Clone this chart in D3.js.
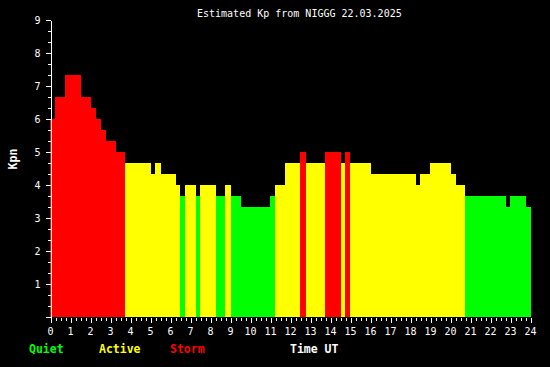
<!DOCTYPE html>
<html><head><meta charset="utf-8">
<script src="https://cdn.jsdelivr.net/npm/d3@7"></script>
<style>
html,body{margin:0;padding:0;background:#000;}
svg{display:block;}
text{font-family:"DejaVu Sans Mono",monospace;}
</style></head>
<body>
<svg id="chart" width="550" height="367"></svg>
<script>
// Segment start times (UT hours) and estimated Kp values
const startHours = [0,0.25,0.75,1.55,2.05,2.3,2.55,2.8,3.3,3.75,
  5.05,5.25,5.55,6.3,6.5,6.75,7.3,7.5,8.3,8.75,
  9.05,9.55,11.0,11.25,11.75,12.5,12.8,13.75,14.55,14.75,
  15.0,16.05,18.3,18.5,19.0,20.05,20.3,20.75,22.8,23.0,
  23.8];
const endHour = 24.05;
const kpValues = [6.00,6.67,7.33,6.67,6.33,6.00,5.67,5.33,5.00,4.67,
  4.33,4.67,4.33,4.00,3.67,4.00,3.67,4.00,3.67,4.00,
  3.67,3.33,3.67,4.00,4.67,5.00,4.67,5.00,4.67,5.00,
  4.67,4.33,4.00,4.33,4.67,4.33,4.00,3.67,3.33,3.67,
  3.33];
const xTicks = d3.range(0, 25);
const yTicks = d3.range(1, 10);
const legendLabels = ["Quiet", "Active", "Storm"];
const legendColors = ["#00ff00", "#ffff00", "#ff0000"];
const thresholds = [4, 5];
const titleText = "Estimated Kp from NIGGG 22.03.2025";

const svg = d3.select("#chart");
svg.append("rect").attr("width",550).attr("height",367).attr("fill","#000");

const x = d3.scaleLinear().domain([0,24]).range([50,530]);
const y = d3.scaleLinear().domain([0,9]).range([317,20]);
const color = d3.scaleThreshold().domain(thresholds).range(legendColors);

const segs = startHours.map((s,i)=>({s, e: i+1<startHours.length ? startHours[i+1] : endHour, v: kpValues[i]}));

svg.append("g").selectAll("rect").data(segs).join("rect")
  .attr("x", d=>x(d.s))
  .attr("width", d=>x(d.e)-x(d.s))
  .attr("y", d=>y(d.v))
  .attr("height", d=>y(0)-y(d.v))
  .attr("fill", d=>color(d.v))
  .attr("shape-rendering","crispEdges");

// Y axis
const yMinor = d3.range(0, 27).map(i=>i/3).filter(v=>Math.abs(v-Math.round(v))>1e-6);
const yAxisMinor = svg.append("g").attr("transform","translate(50.5,0)")
  .call(d3.axisLeft(y).tickValues(yMinor).tickSize(3).tickSizeOuter(0).tickFormat(""));
const yAxis = svg.append("g").attr("transform","translate(50.5,0)")
  .call(d3.axisLeft(y).tickValues(d3.range(0,10)).tickSize(5).tickSizeOuter(0)
    .tickFormat(d=> yTicks.includes(d) ? d : ""));
[yAxisMinor,yAxis].forEach(g=>{
  g.selectAll("path,line").attr("stroke","#fff").attr("shape-rendering","crispEdges");
  g.selectAll("text").attr("fill","#fff").attr("font-size",10).attr("x",-10)
   .attr("font-family","DejaVu Sans Mono");
});
yAxisMinor.select(".domain").remove();

// X axis
const xMinor = d3.range(0, 97).map(i=>i/4).filter(v=>v%1!==0);
const xAxisMinor = svg.append("g").attr("transform","translate(0,318)")
  .call(d3.axisBottom(x).tickValues(xMinor).tickSize(3).tickSizeOuter(0).tickFormat(""));
const xAxis = svg.append("g").attr("transform","translate(0,318)")
  .call(d3.axisBottom(x).tickValues(xTicks).tickSize(5).tickSizeOuter(0).tickFormat(d=>d));
[xAxisMinor,xAxis].forEach(g=>{
  g.select(".domain").remove();
  g.selectAll("line").attr("stroke","#fff").attr("shape-rendering","crispEdges")
    .attr("transform","translate(0.5,0)");
  g.selectAll("text").attr("fill","#fff").attr("font-size",10).attr("y",10)
   .attr("font-family","DejaVu Sans Mono");
});

// Title
svg.append("text").attr("x",197).attr("y",16.5).attr("fill","#fff")
  .attr("font-size",10).text(titleText);

// Y label
svg.append("text").attr("transform","translate(17,159) rotate(-90)")
  .attr("text-anchor","middle").attr("fill","#fff").attr("font-size",11.5)
  .attr("font-weight","bold").text("Kpn");

// Legend
const legendX = [29, 99, 170];
svg.append("g").selectAll("text").data(legendLabels).join("text")
  .attr("x",(d,i)=>legendX[i]).attr("y",353)
  .attr("fill",(d,i)=>legendColors[i]).attr("font-size",11.5).attr("font-weight","bold")
  .text(d=>d);
svg.append("text").attr("x",290).attr("y",353).attr("fill","#fff")
  .attr("font-size",11.5).attr("font-weight","bold").text("Time UT");
</script>
</body></html>
